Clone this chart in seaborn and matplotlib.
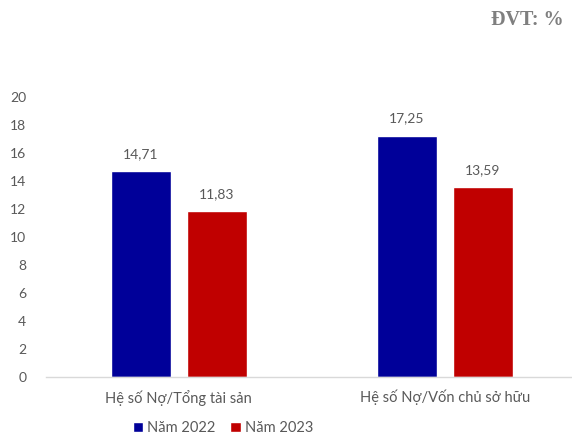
import matplotlib
matplotlib.use("Agg")
import matplotlib.pyplot as plt
import seaborn as sns
import pandas as pd

categories = ["Hệ số Nợ/Tổng tài sản", "Hệ số Nợ/Vốn chủ sở hữu"]
years = ["Năm 2022", "Năm 2023"]
values_2022 = [14.71, 17.25]
values_2023 = [11.83, 13.59]
y_ticks = [0, 2, 4, 6, 8, 10, 12, 14, 16, 18, 20]

df = pd.DataFrame({
    "category": categories * 2,
    "year": [years[0]] * 2 + [years[1]] * 2,
    "value": values_2022 + values_2023,
})

sns.set_style("white")
plt.rcParams["font.family"] = ["Lato", "DejaVu Sans"]

text_gray = "#595959"
palette = {years[0]: "#000099", years[1]: "#C00000"}

fig = plt.figure(figsize=(5.72, 4.40), dpi=100)
ax = fig.add_axes([0.080, 0.143, 0.930, 0.6365])

sns.barplot(data=df, x="category", y="value", hue="year", palette=palette,
            width=0.571, gap=0.21, ax=ax, legend=True, saturation=1)

for container in ax.containers:
    labels = [f"{v:.2f}".replace(".", ",") for v in container.datavalues]
    ax.bar_label(container, labels=labels, padding=8, fontsize=10, color=text_gray)

ax.set_ylim(0, 20)
ax.set_yticks(y_ticks)
ax.set_yticklabels([str(t) for t in y_ticks], fontsize=10, color=text_gray)
ax.set_xlim(-0.5, 1.5)
ax.set_xlabel("")
ax.set_ylabel("")
ax.tick_params(axis="x", labelsize=10.5, colors=text_gray, length=0, pad=9)
ax.tick_params(axis="y", length=0, pad=14)

for side in ["top", "right", "left"]:
    ax.spines[side].set_visible(False)
ax.spines["bottom"].set_color("#d9d9d9")
ax.spines["bottom"].set_linewidth(1)

handles, labels = ax.get_legend_handles_labels()
ax.get_legend().remove()
leg = fig.legend(handles, labels, loc="center", bbox_to_anchor=(0.39, 0.027), ncol=2,
                 frameon=False, fontsize=10.5, handlelength=0.7, handleheight=0.7,
                 handletextpad=0.3, columnspacing=1.0)
for t in leg.get_texts():
    t.set_color(text_gray)

fig.text(0.985, 0.955, "ĐVT: %", ha="right", va="center", fontsize=14.5,
         fontweight="bold", color="#7f7f7f", family=["Liberation Serif", "DejaVu Serif"])

fig.savefig("out.png", dpi=100)
